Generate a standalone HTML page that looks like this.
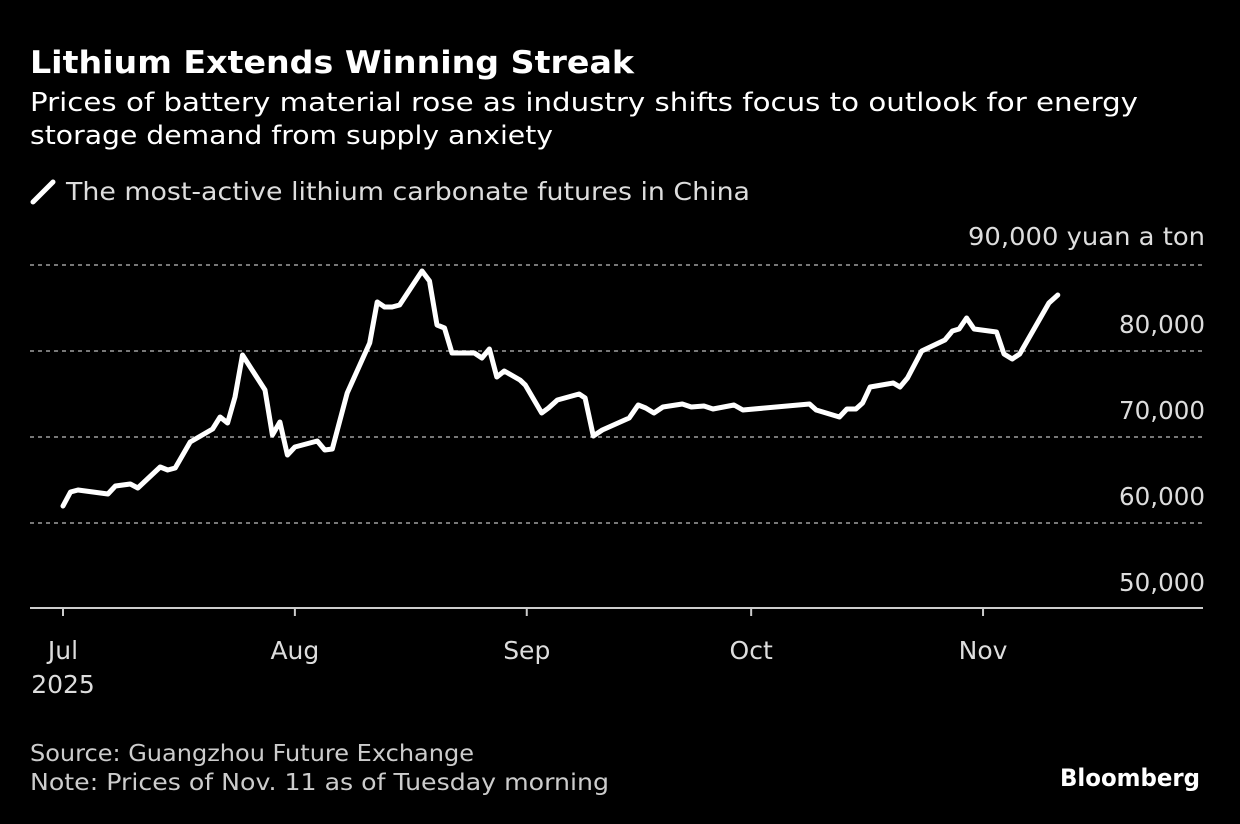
<!DOCTYPE html>
<html><head><meta charset="utf-8"><style>
body{margin:0;background:#000;width:1240px;height:824px;overflow:hidden;font-family:"DejaVu Sans","Liberation Sans",sans-serif;color:#fff}
svg{position:absolute;left:0;top:0;font-family:"DejaVu Sans","Liberation Sans",sans-serif}
</style></head><body>
<svg width="1240" height="824">
<text x="30" y="73" font-size="31" font-weight="bold" fill="#fff" textLength="604" lengthAdjust="spacingAndGlyphs">Lithium Extends Winning Streak</text>
<text x="30" y="111" font-size="26" fill="#fff" textLength="1108" lengthAdjust="spacingAndGlyphs">Prices of battery material rose as industry shifts focus to outlook for energy</text>
<text x="30" y="144" font-size="26" fill="#fff" textLength="523" lengthAdjust="spacingAndGlyphs">storage demand from supply anxiety</text>
<line x1="33" y1="202" x2="53" y2="182" stroke="#fff" stroke-width="5" stroke-linecap="round"/>
<text x="66" y="200" font-size="25" fill="#ddd" textLength="684" lengthAdjust="spacingAndGlyphs">The most-active lithium carbonate futures in China</text>
<text x="1205" y="245" font-size="25" fill="#ddd" text-anchor="end" textLength="237" lengthAdjust="spacingAndGlyphs">90,000 yuan a ton</text>
<g id="grid"></g><g id="xaxis"></g>
<path id="line" fill="none" stroke="#fff" stroke-width="5" stroke-linejoin="round" stroke-linecap="round"/>
<text x="30" y="761" font-size="23" fill="#ccc" textLength="444" lengthAdjust="spacingAndGlyphs">Source: Guangzhou Future Exchange</text>
<text x="30" y="790" font-size="23" fill="#ccc" textLength="579" lengthAdjust="spacingAndGlyphs">Note: Prices of Nov. 11 as of Tuesday morning</text>
<text x="1200" y="786" font-size="24" font-weight="bold" fill="#fff" text-anchor="end" textLength="140" lengthAdjust="spacingAndGlyphs">Bloomberg</text>
</svg>
<script>
const days=[0,1,2,6,7,9,10,13,14,15,17,20,21,22,23,24,27,28,29,30,31,34,35,36,38,41,42,43,44,45,48,49,50,51,52,55,56,57,58,59,61.1,61.8,64.0,64.9,66.1,69.0,69.8,70.9,72.1,75.7,76.9,77.9,79.0,80.2,82.8,84.0,85.7,86.9,89.7,90.9,99.8,100.7,103.8,104.8,106.0,106.9,107.9,111.0,111.9,112.9,114.8,117.9,118.9,119.8,120.8,121.8,124.8,125.8,126.9,127.9,131.8,133.0];
const prices=[61980,63600,63840,63370,64300,64530,64070,66510,66160,66400,69420,70930,72330,71630,74650,79530,75460,70230,71740,67910,68840,69540,68490,68600,75120,80930,85700,85120,85120,85350,89300,88140,83020,82670,79770,79770,79190,80230,76980,77670,76630,76050,72790,73370,74300,75000,74530,70120,70810,72210,73720,73370,72790,73490,73840,73490,73610,73260,73720,73140,73840,73140,72330,73260,73260,73950,75810,76280,75810,76860,80000,81280,82330,82560,83840,82560,82210,79650,79070,79650,85580,86510];
const yTicks=[80000,70000,60000,50000];
const gridVals=[90000,80000,70000,60000];
const monthLabels=["Jul","Aug","Sep","Oct","Nov"];
const monthDays=[0,31,62,92,123];
const NS="http://www.w3.org/2000/svg";
const x=d=>63+d*7.48;
const y=v=>609-(v-50000)*0.0086;
const grid=document.getElementById('grid'),xa=document.getElementById('xaxis');
gridVals.forEach(v=>{const l=document.createElementNS(NS,'line');
l.setAttribute('x1',30);l.setAttribute('x2',1203);l.setAttribute('y1',y(v));l.setAttribute('y2',y(v));
l.setAttribute('stroke','#777');l.setAttribute('stroke-width','2');l.setAttribute('stroke-dasharray','4 4');


grid.appendChild(l);});
yTicks.forEach(v=>{const t=document.createElementNS(NS,'text');
t.setAttribute('x',1205);t.setAttribute('y',y(v)-18);t.setAttribute('text-anchor','end');t.setAttribute('font-size','25');t.setAttribute('fill','#ddd');
t.setAttribute('textLength','86');t.setAttribute('lengthAdjust','spacingAndGlyphs');
t.textContent=v.toLocaleString('en-US');


grid.appendChild(t);});
const base=document.createElementNS(NS,'line');
base.setAttribute('x1',30);base.setAttribute('x2',1203);base.setAttribute('y1',608);base.setAttribute('y2',608);base.setAttribute('stroke','#ccc');base.setAttribute('stroke-width','2');


xa.appendChild(base);
monthLabels.forEach((m,i)=>{const px=x(monthDays[i]);
const tk=document.createElementNS(NS,'line');tk.setAttribute('x1',px);tk.setAttribute('x2',px);tk.setAttribute('y1',608);tk.setAttribute('y2',616);tk.setAttribute('stroke','#ccc');tk.setAttribute('stroke-width','2');


xa.appendChild(tk);
const t=document.createElementNS(NS,'text');t.setAttribute('x',px);t.setAttribute('y',659);t.setAttribute('text-anchor','middle');t.setAttribute('font-size','25');t.setAttribute('fill','#ddd');t.textContent=m;


xa.appendChild(t);});
const yr=document.createElementNS(NS,'text');yr.setAttribute('x',x(0));yr.setAttribute('y',693);yr.setAttribute('text-anchor','middle');yr.setAttribute('font-size','25');yr.setAttribute('fill','#ddd');yr.textContent='2025';


xa.appendChild(yr);
document.getElementById('line').setAttribute('d',days.map((d,i)=>(i?'L':'M')+x(d).toFixed(1)+','+y(prices[i]).toFixed(1)).join(''));
</script>
</body></html>
